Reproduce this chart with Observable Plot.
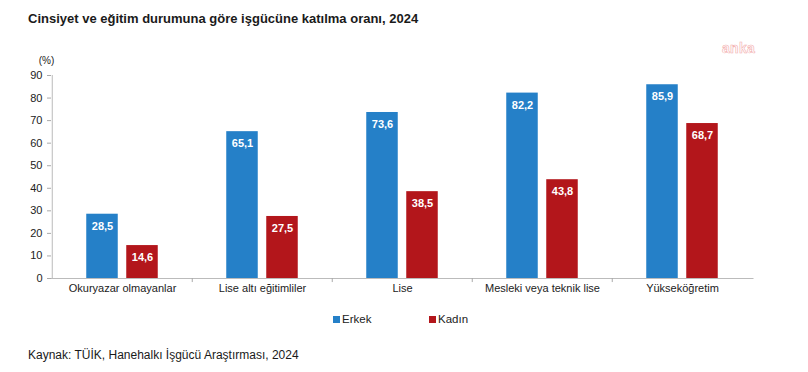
<!DOCTYPE html>
<html>
<head>
<meta charset="utf-8">
<script src="https://cdn.jsdelivr.net/npm/d3@7"></script>
<script src="https://cdn.jsdelivr.net/npm/@observablehq/plot@0.6"></script>
<style>
  body { margin: 0; width: 808px; height: 372px; background: #fff; font-family: "Liberation Sans", Arial, sans-serif; position: relative; overflow: hidden; }
  #title { position: absolute; left: 28px; top: 11px; font-size: 13px; font-weight: bold; color: #1a1a1a; }
  #watermark { position: absolute; left: 722px; top: 40px; font-size: 14px; font-weight: bold; color: #fff; -webkit-text-stroke: 0.6px #f3b0b0; letter-spacing: 0.3px; }
  #chart { position: absolute; left: 0; top: 40px; }
  #legend { position: absolute; top: 313px; left: 0; font-size: 11.5px; color: #222; }
  .li { position: absolute; white-space: nowrap; }
  .sw { display: inline-block; width: 7px; height: 7px; margin-right: 2px; vertical-align: 0px; }
  #caption { position: absolute; left: 28px; top: 348px; font-size: 12px; color: #1a1a1a; }
</style>
</head>
<body>
<div id="title">Cinsiyet ve eğitim durumuna göre işgücüne katılma oranı, 2024</div>
<div id="watermark">anka</div>
<div id="chart"></div>
<div id="legend"></div>
<div id="caption">Kaynak: TÜİK, Hanehalkı İşgücü Araştırması, 2024</div>
<script>
const categories = ["Okuryazar olmayanlar", "Lise altı eğitimliler", "Lise", "Mesleki veya teknik lise", "Yükseköğretim"];
const erkek = [28.5, 65.1, 73.6, 82.2, 85.9];
const kadin = [14.6, 27.5, 38.5, 43.8, 68.7];
const series = ["Erkek", "Kadın"];
const colors = ["#2580C8", "#B3161B"];
const yTicks = [0, 10, 20, 30, 40, 50, 60, 70, 80, 90];

const rows = categories.map((c, i) => ({cat: c, erkek: erkek[i], kadin: kadin[i]}));
const fmt = v => v.toFixed(1).replace(".", ",");

const width = 808, height = 260;
const marginLeft = 51, marginRight = 54.5;
const bw = (width - marginLeft - marginRight) / categories.length;
const half = bw / 2;
const barW = 32, off = 20;

const chart = Plot.plot({
  width, height,
  marginLeft, marginRight, marginTop: 35, marginBottom: 22,
  style: {fontFamily: "'Liberation Sans', Arial, sans-serif", fontSize: "11px", color: "#222", background: "transparent"},
  x: {domain: categories, padding: 0, label: null},
  y: {domain: [0, 90], label: null},
  marks: [
    Plot.axisY({ticks: yTicks, tickSize: 4, tickPadding: 5, stroke: "#aaa", fontSize: 11, color: "#222", label: null}),
    Plot.ruleX([categories[0]], {x: d => d, dx: -half, stroke: "#bbb"}),
    Plot.axisX({tickSize: 0, tickPadding: 6, fontSize: 11, label: null}),
    Plot.barY(rows, {x: "cat", y: "erkek", fill: colors[0], insetLeft: half - off - barW/2, insetRight: half + off - barW/2}),
    Plot.barY(rows, {x: "cat", y: "kadin", fill: colors[1], insetLeft: half + off - barW/2, insetRight: half - off - barW/2}),
    Plot.ruleY([0], {stroke: "#bbb"}),
    Plot.ruleX(categories.slice(1), {x: d => d, y1: 0, y2: -1.8, dx: -half, stroke: "#aaa"}),
    Plot.text(rows, {x: "cat", y: "erkek", text: d => fmt(d.erkek), dx: -off, dy: 12, fill: "white", fontWeight: "bold", fontSize: 11}),
    Plot.text(rows, {x: "cat", y: "kadin", text: d => fmt(d.kadin), dx: off, dy: 12, fill: "white", fontWeight: "bold", fontSize: 11}),
    Plot.text(["(%)"], {frameAnchor: "top-left", dx: -5, dy: -19, fontSize: 10, fill: "#222", textAnchor: "middle"})
  ]
});
document.getElementById("chart").appendChild(chart);

const legend = document.getElementById("legend");
const lx = [333, 429];
series.forEach((s, i) => {
  const d = document.createElement("div");
  d.className = "li";
  d.style.left = lx[i] + "px";
  d.innerHTML = `<span class="sw" style="background:${colors[i]}"></span>${s}`;
  legend.appendChild(d);
});
</script>
</body>
</html>
